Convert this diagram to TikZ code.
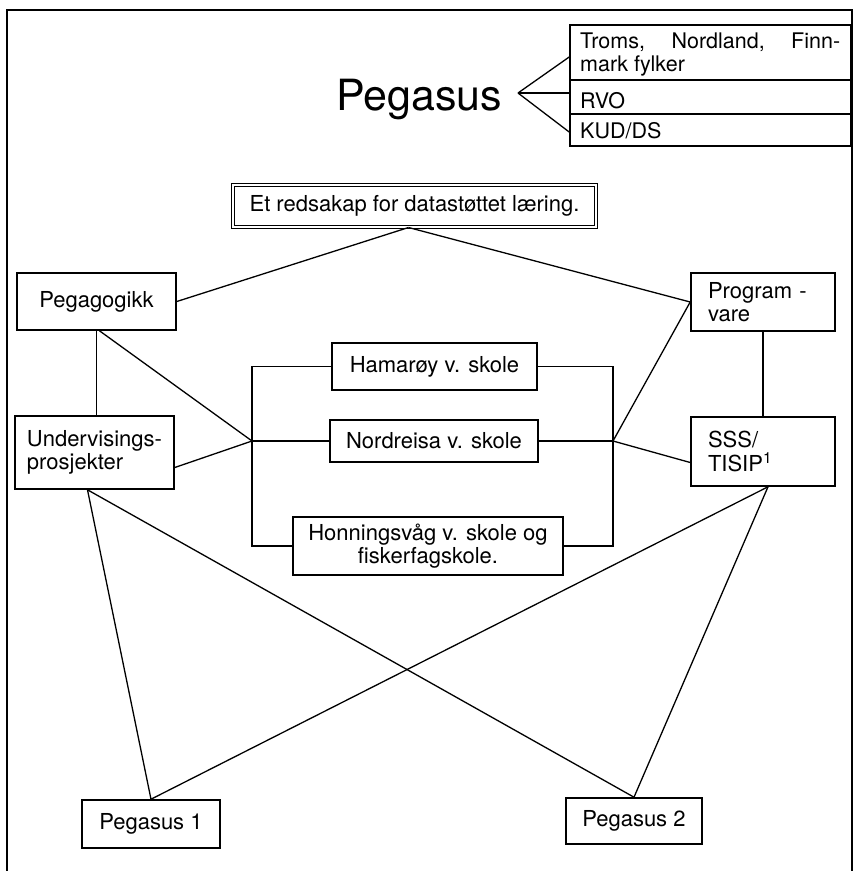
\documentclass[tikz,border=0pt]{standalone}
\usepackage{fontspec}
\setmainfont{TeX Gyre Heros}
\begin{document}
\begin{tikzpicture}[x=1pt,y=-1pt,
  box/.style={draw, line width=1.6pt, inner sep=0pt, font=\fontsize{22}{23.5}\selectfont, align=center},
  lbox/.style={box, align=left, text width=110pt, inner xsep=17pt, minimum height=#1},
  rowbox/.style={draw, line width=1.6pt, inner sep=0pt, minimum width=281pt, minimum height=#1},
  txt/.style={inner sep=0pt, font=\fontsize{21.5}{23.5}\selectfont, anchor=base west},
  link/.style={line width=1.3pt}
]
\useasboundingbox (0,0) rectangle (853,871);
% frame
\draw[line width=2.2pt] (7,871) -- (7,10) -- (852,10) -- (852,871);

% title and table
\node[inner sep=0pt, anchor=base, font=\fontsize{43}{45}\selectfont] (peg) at (419,110) {Pegasus};
\coordinate (tip) at (518,93);
\node[rowbox=55pt] (row1) at (710.5,52.5) {};
\node[rowbox=34pt] (row2) at (710.5,97) {};
\node[rowbox=32pt] (row3) at (710.5,130) {};
\node[txt] (t1) at (580,48) {\makebox[260pt][s]{Troms, Nordland, Finn-}};
\node[txt] (t1b) at (580,71) {mark fylker};
\node[txt] (t2) at (580,108) {RVO};
\node[txt] (t3) at (580,138) {KUD/DS};
\draw[link] (tip) -- ([yshift=-4.5pt]row1.west);
\draw[link] (tip) -- ([yshift=4pt]row2.west);
\draw[link] (tip) -- ([yshift=-2pt]row3.west);

% boxes
\node[box, minimum width=363pt, minimum height=42pt, double, double distance=2pt, line width=1pt] (title) at (414.5,206) {Et redsakap for datastøttet læring.};
\node[box, minimum width=159pt, minimum height=57pt] (ped) at (96.5,301.5) {Pegagogikk};
\node[box, minimum width=159pt, minimum height=73pt, align=left] (und) at (94.5,452.5) {Undervisings-\\prosjekter};
\node[lbox=58pt] (prog) at (763,302) {Program -\\vare};
\node[lbox=69pt] (sss) at (763,451.5) {SSS/\\TISIP\textsuperscript{1}};
\node[box, minimum width=205pt, minimum height=47pt] (ham) at (434.5,366.5) {Hamarøy v. skole};
\node[box, minimum width=208pt, minimum height=42pt] (nor) at (434,441) {Nordreisa v. skole};
\node[box, minimum width=270pt, minimum height=58pt] (hon) at (428,546) {Honningsvåg v. skole og\\fiskerfagskole.};
\node[box, minimum width=138pt, minimum height=48pt, font=\fontsize{22}{24}\selectfont] (p1) at (151,824) {Pegasus 1};
\node[box, minimum width=136pt, minimum height=46pt, font=\fontsize{22}{24}\selectfont] (p2) at (634,821) {Pegasus 2};

% connectors
\coordinate (jl) at (252,441);
\coordinate (jr) at (613,441);
\draw[link] ([xshift=-6pt]title.south) -- (ped.east);
\draw[link] ([xshift=-6pt]title.south) -- (prog.west);
\draw[link] (ped.south) -- (ped.south |- und.north);
\draw[link] ([xshift=3pt]ped.south) -- (jl);
\draw[link] ([yshift=-15pt]und.east) -- (jl);
\draw[link] (ham.west) -| (jl) |- (hon.west);
\draw[link] (nor.west) -- (jl);
\draw[link] (ham.east) -| (jr) |- (hon.east);
\draw[link] (nor.east) -- (jr);
\draw[link] (jr) -- (prog.west);
\draw[link] (jr) -- ([yshift=-11pt]sss.west);
\draw[link] (prog.south) -- (sss.north);
\draw[link] ([xshift=-7pt]und.south) -- (p1.north);
\draw[link] ([xshift=-7pt]und.south) -- (p2.north);
\draw[link] ([xshift=5pt]sss.south) -- (p1.north);
\draw[link] ([xshift=5pt]sss.south) -- (p2.north);
\end{tikzpicture}
\end{document}
